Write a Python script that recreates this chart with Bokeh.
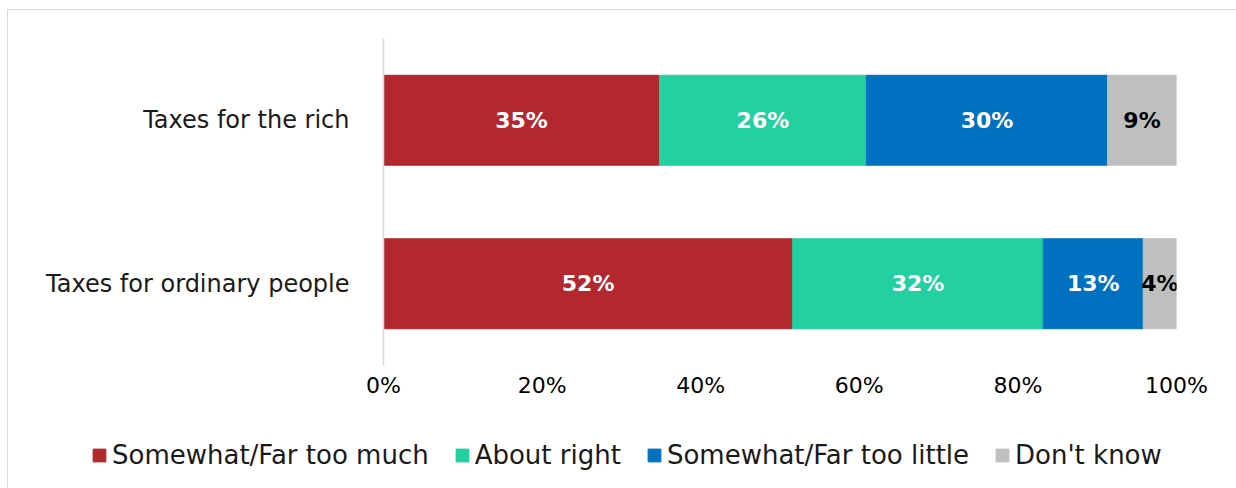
from bokeh.plotting import figure
from bokeh.layouts import column
from bokeh.models import (ColumnDataSource, FactorRange, Range1d, FixedTicker,
                          CustomJSTickFormatter, Legend, LegendItem)
from bokeh.core.properties import value
from bokeh.embed import file_html
from bokeh.resources import INLINE

categories = ["Taxes for ordinary people", "Taxes for the rich"]
series = ["Somewhat/Far too much", "About right", "Somewhat/Far too little", "Don't know"]
too_much = [51.6, 34.8]
about_right = [31.6, 26.1]
too_little = [12.6, 30.4]
dont_know = [4.2, 8.7]
tick_values = [0, 20, 40, 60, 80, 100]
colors = ["#B2282E", "#23D0A2", "#0070C0", "#BFBFBF"]
label_colors = ["white", "white", "white", "black"]

FONT = "DejaVu Sans"
keys = ["a", "b", "c", "d"]
data = dict(cat=categories, a=too_much, b=about_right, c=too_little, d=dont_know)
source = ColumnDataSource(data)

W = 1228
p = figure(width=W, height=400, output_backend="svg", toolbar_location=None,
           y_range=FactorRange(factors=categories), x_range=Range1d(0, 100),
           min_border_left=375, min_border_right=60, min_border_top=28,
           min_border_bottom=45)
p.frame_align = False
p.outline_line_color = None
p.grid.visible = False

renderers = p.hbar_stack(keys, y="cat", height=0.55, color=colors, source=source)

# data labels
lx, ly, lt, lc = [], [], [], []
for i, cat in enumerate(categories):
    left = 0.0
    for k, col in zip(keys, label_colors):
        v = data[k][i]
        lx.append(left + v / 2)
        ly.append(cat)
        lt.append(f"{round(v)}%")
        lc.append(col)
        left += v
lsrc = ColumnDataSource(dict(x=lx, y=ly, t=lt, c=lc))
p.text(x="x", y="y", text="t", source=lsrc, text_color="c", text_align="center",
       text_baseline="middle", text_font=value(FONT), text_font_style="bold",
       text_font_size="22px")

# axes
p.xaxis.ticker = FixedTicker(ticks=tick_values)
p.xaxis.formatter = CustomJSTickFormatter(code="return tick + '%';")
p.xaxis.axis_line_color = None
p.xaxis.major_tick_line_color = None
p.xaxis.minor_tick_line_color = None
p.xaxis.major_tick_out = 0
p.xaxis.minor_tick_out = 0
p.xaxis.major_label_standoff = 7
p.xaxis.major_label_text_font = FONT
p.xaxis.major_label_text_font_size = "22px"
p.xaxis.major_label_text_color = "#000000"

p.yaxis.axis_line_color = "#d9d9d9"
p.yaxis.axis_line_width = 1.5
p.yaxis.major_tick_line_color = None
p.yaxis.minor_tick_line_color = None
p.yaxis.major_tick_out = 0
p.yaxis.minor_tick_out = 0
p.yaxis.major_label_standoff = 34
p.yaxis.major_label_text_font = FONT
p.yaxis.major_label_text_font_size = "24px"
p.yaxis.major_label_text_color = "#1a1a1a"

# legend strip (hidden copies of the series provide the legend swatches)
p2 = figure(width=W, height=78, output_backend="svg", toolbar_location=None,
            x_range=Range1d(0, 100), y_range=FactorRange(factors=categories),
            x_axis_location=None, y_axis_location=None,
            min_border_left=0, min_border_right=0, min_border_top=0, min_border_bottom=0)
p2.frame_align = False
p2.outline_line_color = None
p2.grid.visible = False
hidden = p2.hbar_stack(keys, y="cat", height=0.55, color=colors, source=source)
for r in hidden:
    r.visible = False
legend = Legend(items=[LegendItem(label=s, renderers=[r]) for s, r in zip(series, hidden)],
                orientation="horizontal", location=(83, 18),
                glyph_width=16, glyph_height=16, label_standoff=5, spacing=25,
                padding=0, margin=0, border_line_color=None, background_fill_alpha=0,
                inactive_fill_alpha=0,
                label_text_font=FONT, label_text_font_size="26px",
                label_text_color="#1a1a1a")
p2.add_layout(legend, "center")

layout = column(p, p2, spacing=0,
                styles={"border": "1px solid #d9d9d9", "margin-left": "7px",
                        "margin-top": "9px"})

open("out.html", "w").write(file_html(layout, INLINE))
